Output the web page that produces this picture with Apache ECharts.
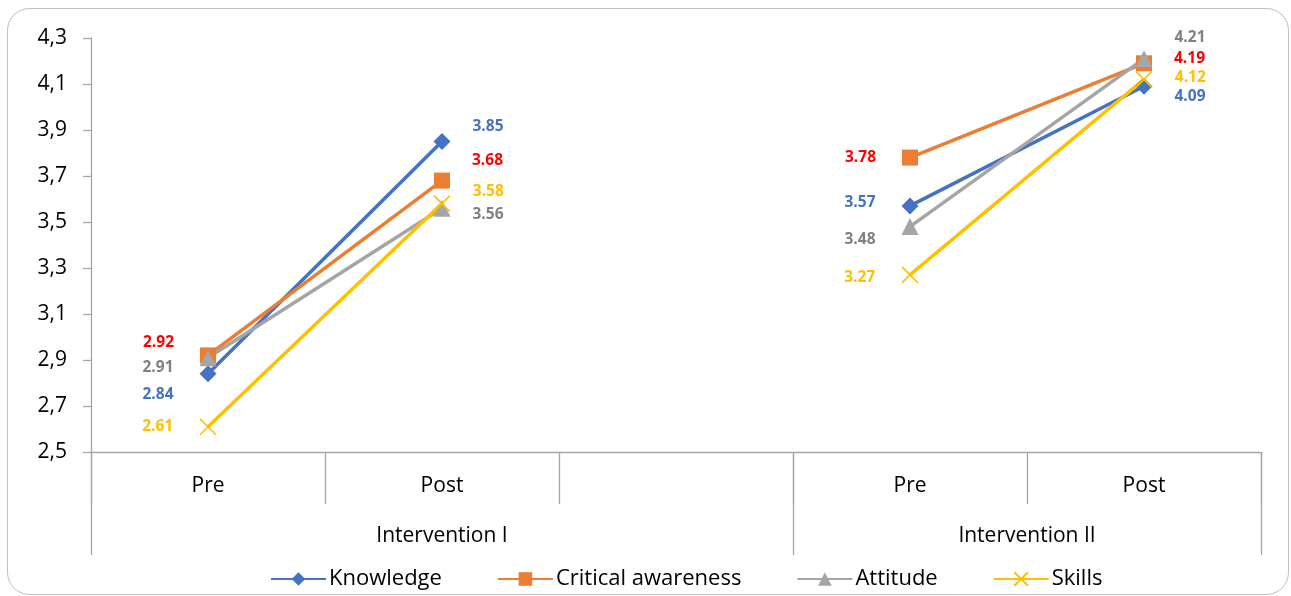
<!DOCTYPE html>
<html>
<head>
<meta charset="utf-8">
<script src="https://cdn.jsdelivr.net/npm/echarts@6/dist/echarts.min.js"></script>
<style>
  html, body { margin: 0; padding: 0; background: #fff; }
  #chart { width: 1291px; height: 596px; }
</style>
</head>
<body>
<div id="chart"></div>
<script>
// Phases on the x axis; the empty slot separates the two interventions
var phases = ['Pre', 'Post', '', 'Pre', 'Post'];
var groups = ['Intervention I', 'Intervention II'];
var yTicks = [2.5, 2.7, 2.9, 3.1, 3.3, 3.5, 3.7, 3.9, 4.1, 4.3];

// Mean scores per dimension (gap between the interventions)
var knowledge = [2.84, 3.85, null, 3.57, 4.09];
var criticalAwareness = [2.92, 3.68, null, 3.78, 4.19];
var attitude = [2.91, 3.56, null, 3.48, 4.21];
var skills = [2.61, 3.58, null, 3.27, 4.12];

// Vertical nudges for value labels so stacked labels stay readable
var labelNudge = {
  knowledge: [21, -15, 0, -3, 10],
  critical: [-13, -20, 0, 0, -5],
  attitude: [10, 6, 0, 13, -21],
  skills: [0, -12, 0, 3, -2]
};

var FONT = '"Open Sans"';
var AXIS_GRAY = '#A6A6A6';

function buildData(values, nudge, labelColor) {
  return values.map(function (v, i) {
    if (v === null) return '-';
    var isPre = phases[i] === 'Pre';
    return {
      value: v,
      label: {
        show: true,
        position: isPre ? 'left' : 'right',
        distance: isPre ? 26 : 22,
        offset: [0, nudge[i]],
        color: labelColor,
        fontFamily: FONT,
        fontWeight: 'bold',
        fontSize: 15.5,
        formatter: function (p) { return p.value.toFixed(2); }
      }
    };
  });
}

function lineSeries(name, values, color, symbol, size, nudge, labelColor, extra) {
  var s = {
    name: name,
    type: 'line',
    data: buildData(values, nudge, labelColor),
    symbol: symbol,
    symbolSize: size,
    showAllSymbol: true,
    connectNulls: false,
    lineStyle: { color: color, width: 3.5 },
    itemStyle: { color: color },
    emphasis: { disabled: true },
    animation: false
  };
  if (extra) Object.assign(s.itemStyle, extra);
  return s;
}

var chart = echarts.init(document.getElementById('chart'), null, { renderer: 'canvas' });

var option = {
  backgroundColor: '#ffffff',
  animation: false,
  grid: { left: 91, right: 30, top: 38, bottom: 144 },
  legend: {
    top: 563,
    left: 265,
    itemWidth: 55,
    itemHeight: 17,
    itemGap: 55,
    textStyle: { fontFamily: FONT, fontSize: 22, color: '#000', padding: [0, 0, 0, -2] },
    data: ['Knowledge', 'Critical awareness', 'Attitude', 'Skills']
  },
  xAxis: [
    {
      type: 'category',
      data: phases,
      boundaryGap: true,
      axisLine: { show: true, lineStyle: { color: AXIS_GRAY, width: 1.3 } },
      axisTick: { show: true, alignWithLabel: false, length: 52, lineStyle: { color: AXIS_GRAY, width: 1.3 } },
      axisLabel: { margin: 24, fontFamily: FONT, fontSize: 21, color: '#000' },
      splitLine: { show: false }
    },
    {
      type: 'value',
      position: 'bottom',
      min: 0,
      max: 5,
      axisLine: { show: false },
      axisTick: {
        show: true,
        customValues: [0, 3, 5],
        length: 103,
        lineStyle: { color: AXIS_GRAY, width: 1.3 }
      },
      axisLabel: {
        show: true,
        customValues: [1.5, 4],
        margin: 74,
        fontFamily: FONT,
        fontSize: 21,
        color: '#000',
        formatter: function (v) { return v < 3 ? groups[0] : groups[1]; }
      },
      splitLine: { show: false }
    }
  ],
  yAxis: {
    type: 'value',
    min: 2.5,
    max: 4.3,
    axisLine: { show: true, lineStyle: { color: AXIS_GRAY, width: 1.3 } },
    axisTick: { show: true, length: 8, customValues: yTicks, lineStyle: { color: AXIS_GRAY, width: 1.3 } },
    axisLabel: {
      customValues: yTicks,
      margin: 24,
      fontFamily: FONT,
      fontSize: 21,
      color: '#000',
      formatter: function (v) { return v.toFixed(1).replace('.', ','); }
    },
    splitLine: { show: false }
  },
  series: [
    lineSeries('Knowledge', knowledge, '#4472C4', 'diamond', 17, labelNudge.knowledge, '#4472C4'),
    lineSeries('Critical awareness', criticalAwareness, '#ED7D31', 'rect', 16, labelNudge.critical, '#FF0000'),
    lineSeries('Attitude', attitude, '#A5A5A5', 'triangle', 17, labelNudge.attitude, '#808080'),
    lineSeries('Skills', skills, '#FFC000', 'path://M0,0L10,10M10,0L0,10', 16, labelNudge.skills, '#FFC000',
      { borderColor: '#FFC000', borderWidth: 1.6 })
  ],
  graphic: [
    {
      type: 'rect',
      silent: true,
      shape: { x: 7.5, y: 8.5, width: 1281, height: 586, r: 22 },
      style: { fill: 'none', stroke: '#BFBFBF', lineWidth: 1 }
    }
  ]
};

chart.setOption(option);
</script>
</body>
</html>
